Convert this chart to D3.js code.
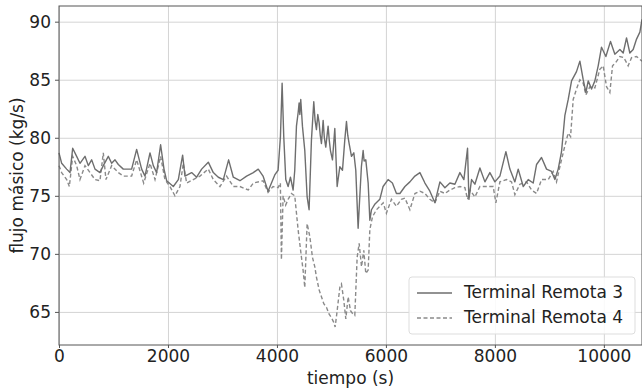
<!DOCTYPE html>
<html>
<head>
<meta charset="utf-8">
<script src="https://cdn.jsdelivr.net/npm/d3@7"></script>
<style>
  body { margin: 0; background: #fff; }
  svg { display: block; font-family: "DejaVu Sans", sans-serif; }
</style>
</head>
<body>
<svg id="chart" width="642" height="390"></svg>
<script>
// Terminal Remota 3 (solid)
var timeR3 = [0, 49, 141, 202, 251, 324, 385, 477, 538, 599, 661, 752, 813, 905, 966, 1028, 1089, 1180, 1333, 1425,
  1517, 1578, 1670, 1731, 1792, 1865, 1927, 1976, 2098, 2190, 2269, 2312, 2434, 2526, 2618, 2740, 2832, 2924, 3016, 3113,
  3199, 3321, 3443, 3566, 3657, 3745, 3837, 3960, 4021, 4064, 4095, 4125, 4162, 4205, 4248, 4297, 4327, 4358, 4390, 4407,
  4420, 4437, 4468, 4511, 4554, 4590, 4633, 4676, 4700, 4725, 4750, 4774, 4795, 4817, 4848, 4870, 4896, 4939, 4960, 4982,
  5019, 5062, 5105, 5154, 5203, 5245, 5276, 5300, 5325, 5368, 5411, 5447, 5470, 5490, 5510, 5550, 5582, 5600, 5631, 5674,
  5705, 5735, 5800, 5888, 5948, 6040, 6119, 6193, 6257, 6349, 6440, 6532, 6624, 6716, 6807, 6899, 6991, 7083, 7174, 7266,
  7358, 7431, 7498, 7523, 7572, 7633, 7725, 7817, 7908, 8000, 8092, 8202, 8275, 8367, 8428, 8520, 8612, 8703, 8765, 8856,
  8948, 9040, 9101, 9162, 9223, 9284, 9346, 9407, 9498, 9560, 9621, 9670, 9713, 9774, 9835, 9896, 9957, 10037, 10122, 10202,
  10294, 10355, 10416, 10477, 10538, 10600, 10661, 10700]
var flowR3 = [78.7, 77.8, 77.3, 77.0, 79.1, 78.4, 77.8, 78.4, 77.6, 78.1, 77.3, 77.0, 77.6, 78.4, 77.8, 78.1, 77.7, 77.3, 77.3, 79.0,
  77.3, 76.7, 78.7, 77.6, 77.0, 79.4, 77.3, 76.3, 75.8, 76.4, 78.5, 76.7, 77.0, 76.6, 77.3, 77.9, 77.0, 76.6, 76.4, 78.1,
  76.6, 76.3, 76.7, 77.0, 77.3, 76.7, 75.4, 76.8, 77.2, 80.1, 84.7, 80.1, 76.4, 75.8, 76.6, 75.5, 77.2, 81.0, 82.2, 83.0,
  82.0, 83.3, 81.0, 78.9, 74.9, 73.8, 79.8, 83.1, 81.5, 80.7, 82.0, 81.3, 80.2, 79.5, 81.5, 80.0, 79.2, 81.0, 79.8, 78.9,
  78.1, 80.8, 75.8, 77.5, 77.2, 79.8, 81.4, 80.2, 79.5, 78.4, 78.7, 77.2, 74.5, 72.2, 74.0, 77.5, 78.9, 78.0, 78.1, 76.1,
  72.9, 73.8, 74.3, 74.7, 75.8, 76.4, 76.1, 75.2, 75.2, 75.8, 76.2, 76.7, 77.0, 76.1, 75.4, 74.4, 76.2, 75.7, 76.1, 76.0,
  77.0, 76.4, 79.1, 74.7, 76.4, 76.0, 77.4, 76.2, 77.0, 76.2, 76.7, 78.8, 77.3, 76.2, 77.3, 75.8, 76.4, 76.1, 77.7, 78.3,
  77.3, 77.1, 76.4, 77.3, 78.8, 81.9, 83.3, 84.9, 85.7, 86.6, 85.0, 83.9, 84.9, 84.2, 84.9, 86.2, 87.8, 87.0, 88.3, 87.2,
  87.6, 87.3, 88.6, 87.3, 87.6, 88.5, 89.1, 90.2]

// Terminal Remota 4 (dashed)
var timeR4 = [0, 49, 141, 190, 251, 324, 385, 477, 569, 661, 752, 813, 862, 966, 1089, 1180, 1333, 1425, 1554, 1670,
  1762, 1865, 1944, 2037, 2128, 2220, 2281, 2343, 2465, 2587, 2740, 2832, 2954, 3076, 3199, 3321, 3474, 3566, 3745, 3837,
  3928, 4020, 4063, 4082, 4113, 4160, 4205, 4266, 4327, 4388, 4450, 4480, 4511, 4554, 4603, 4652, 4694, 4725, 4774, 4817,
  4860, 4909, 4958, 5001, 5043, 5068, 5105, 5154, 5184, 5227, 5264, 5307, 5350, 5398, 5429, 5472, 5509, 5552, 5594, 5631,
  5674, 5705, 5754, 5827, 5950, 6009, 6101, 6193, 6285, 6349, 6440, 6532, 6624, 6716, 6807, 6899, 6991, 7083, 7174, 7266,
  7358, 7450, 7498, 7545, 7633, 7725, 7847, 7969, 8018, 8092, 8214, 8306, 8367, 8459, 8581, 8673, 8765, 8856, 8979, 9070,
  9131, 9192, 9284, 9346, 9389, 9437, 9498, 9560, 9621, 9670, 9743, 9835, 9926, 9987, 10049, 10110, 10159, 10220, 10294, 10367,
  10446, 10508, 10600, 10700]
var flowR4 = [77.6, 77.0, 76.4, 75.8, 78.4, 77.6, 76.4, 77.6, 77.0, 76.4, 76.3, 78.7, 76.4, 77.6, 77.0, 76.7, 76.7, 78.1, 76.1, 77.8,
  76.4, 78.4, 76.4, 75.8, 75.0, 75.8, 77.8, 76.1, 76.4, 76.7, 77.3, 76.4, 75.8, 76.7, 75.8, 75.8, 75.5, 76.1, 76.3, 75.3,
  75.8, 75.7, 76.1, 69.5, 75.0, 74.2, 74.7, 75.2, 75.0, 72.1, 69.7, 68.6, 67.1, 72.6, 71.5, 69.7, 68.9, 68.0, 66.9, 66.3,
  65.7, 65.4, 64.8, 64.5, 64.1, 63.7, 65.1, 67.1, 67.4, 66.0, 64.4, 66.3, 65.1, 64.8, 64.7, 69.7, 70.9, 68.9, 70.3, 68.3,
  68.6, 72.1, 73.2, 73.8, 74.4, 73.5, 74.7, 74.1, 74.7, 74.8, 73.8, 75.2, 75.4, 75.2, 74.7, 74.4, 75.4, 75.2, 75.5, 75.7,
  75.8, 75.7, 74.7, 75.5, 74.9, 75.8, 75.8, 75.8, 74.4, 76.2, 76.4, 76.2, 75.1, 76.0, 76.2, 75.5, 75.2, 76.4, 76.4, 77.1,
  76.2, 77.5, 79.3, 80.4, 80.1, 83.3, 84.2, 85.0, 84.7, 83.7, 84.4, 84.3, 85.9, 86.2, 84.4, 83.9, 86.2, 86.5, 87.0, 86.9,
  86.2, 86.9, 87.0, 86.6]

var xTicks = [0, 2000, 4000, 6000, 8000, 10000]
var yTicks = [65, 70, 75, 80, 85, 90]
var seriesNames = ["Terminal Remota 3", "Terminal Remota 4"]

var width = 642
var height = 390
var margin = {top: 6, right: 0, bottom: 45, left: 59}

var x = d3.scaleLinear()
  .domain([0, 10700])
  .range([margin.left, width - margin.right])
var y = d3.scaleLinear()
  .domain([62.15, 91.35])
  .range([height - margin.bottom, margin.top])

var svg = d3.select("#chart")

// grid
svg.append("g")
  .attr("transform", `translate(0,${height - margin.bottom})`)
  .call(d3.axisBottom(x).tickValues(xTicks).tickSize(-(height - margin.bottom - margin.top)).tickFormat(""))
  .call(g => g.select(".domain").remove())
  .call(g => g.selectAll("line").attr("stroke", "#d4d4d4").attr("stroke-width", 1))
svg.append("g")
  .attr("transform", `translate(${margin.left},0)`)
  .call(d3.axisLeft(y).tickValues(yTicks).tickSize(-(width - margin.left - margin.right)).tickFormat(""))
  .call(g => g.select(".domain").remove())
  .call(g => g.selectAll("line").attr("stroke", "#d4d4d4").attr("stroke-width", 1))

var lineR3 = d3.line()
  .x((d, i) => x(timeR3[i]))
  .y(d => y(d))
var lineR4 = d3.line()
  .x((d, i) => x(timeR4[i]))
  .y(d => y(d))

svg.append("path")
  .datum(flowR4)
  .attr("fill", "none")
  .attr("stroke", "#8a8a8a")
  .attr("stroke-width", 1.4)
  .attr("stroke-dasharray", "4,2.5")
  .attr("d", lineR4)
svg.append("path")
  .datum(flowR3)
  .attr("fill", "none")
  .attr("stroke", "#6e6e6e")
  .attr("stroke-width", 1.4)
  .attr("stroke-linejoin", "round")
  .attr("d", lineR3)

// frame
svg.append("rect")
  .attr("x", margin.left)
  .attr("y", margin.top)
  .attr("width", width - margin.right - margin.left)
  .attr("height", height - margin.bottom - margin.top)
  .attr("fill", "none")
  .attr("stroke", "#555")
  .attr("stroke-width", 1)

// axes
var xAxis = svg.append("g")
  .attr("transform", `translate(0,${height - margin.bottom})`)
  .call(d3.axisBottom(x).tickValues(xTicks).tickSize(3).tickPadding(2).tickFormat(d3.format("d")))
xAxis.select(".domain").remove()
xAxis.selectAll("text").attr("font-size", 17).attr("fill", "#222").attr("font-family", "DejaVu Sans")
xAxis.selectAll("line").attr("stroke", "#555")

var yAxis = svg.append("g")
  .attr("transform", `translate(${margin.left},0)`)
  .call(d3.axisLeft(y).tickValues(yTicks).tickSize(4).tickPadding(4))
yAxis.select(".domain").remove()
yAxis.selectAll("text").attr("font-size", 17).attr("fill", "#222").attr("font-family", "DejaVu Sans")
yAxis.selectAll("line").attr("stroke", "#555")

svg.append("text")
  .attr("x", (margin.left + width - margin.right) / 2)
  .attr("y", 384)
  .attr("text-anchor", "middle")
  .attr("font-size", 17)
  .attr("fill", "#222")
  .text("tiempo (s)")
svg.append("text")
  .attr("transform", `translate(18,${(margin.top + height - margin.bottom) / 2}) rotate(-90)`)
  .attr("text-anchor", "middle")
  .attr("dominant-baseline", "middle")
  .attr("font-size", 17)
  .attr("fill", "#222")
  .text("flujo másico (kg/s)")

// legend
var legend = svg.append("g").attr("transform", "translate(409,277)")
legend.append("rect")
  .attr("width", 226).attr("height", 57).attr("rx", 3)
  .attr("fill", "#fff").attr("fill-opacity", 0.85)
  .attr("stroke", "#ddd")
seriesNames.forEach((name, i) => {
  var yy = 16 + i * 25
  legend.append("line")
    .attr("x1", 8).attr("x2", 43).attr("y1", yy).attr("y2", yy)
    .attr("stroke", i === 0 ? "#6e6e6e" : "#8a8a8a")
    .attr("stroke-width", 1.4)
    .attr("stroke-dasharray", i === 0 ? null : "4,2.5")
  legend.append("text")
    .attr("x", 55).attr("y", yy)
    .attr("dominant-baseline", "middle")
    .attr("font-size", 17)
    .attr("fill", "#222")
    .text(name)
})
</script>
</body>
</html>
